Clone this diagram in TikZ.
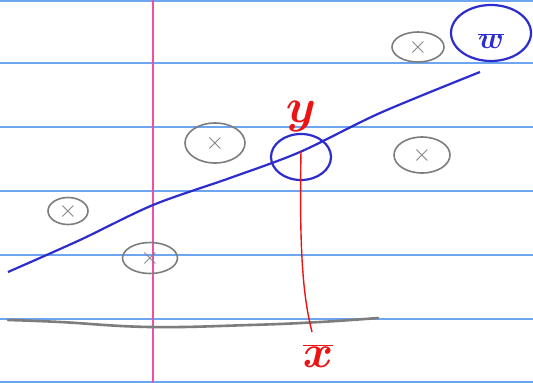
\documentclass[tikz,border=0pt]{standalone}
\usepackage{fix-cm}
\usepackage{bm}
\usetikzlibrary{positioning,shapes.geometric}

\definecolor{rulecol}{RGB}{110,165,240}
\definecolor{margincol}{RGB}{235,80,175}
\definecolor{inkblue}{RGB}{45,45,205}
\definecolor{pencil}{RGB}{125,125,125}
\definecolor{penred}{RGB}{235,20,20}

\tikzset{
  rule/.style={rulecol, line width=1.2pt},
  datapt/.style={ellipse, draw=pencil, line width=1.6pt, inner sep=0pt, text=pencil, font=\fontsize{24}{26}\selectfont},
  ring/.style={ellipse, draw=inkblue, line width=2.2pt, inner sep=0pt}
}

\begin{document}
\begin{tikzpicture}[x=1pt, y=-1pt]

% Paper
\fill[white] (0,0) rectangle (533,383);
\useasboundingbox (0,0) rectangle (533,383);

% Ruled lines
\foreach \y in {1, 63, 127, 191, 255, 319, 382} {
  \draw[rule] (0,\y) -- (533,\y);
}

% Margin
\draw[margincol, line width=1.3pt] (153,0) -- (153,383);

% Baseline (pencil)
\draw[pencil, line width=2.6pt, line cap=round] plot[smooth, tension=0.7] coordinates {
  (8,320) (60,322) (150,327) (250,325) (320,322) (378,318)
};

% Data points
\foreach \px/\py/\w/\h [count=\i] in {68/211/40/27, 150/258/55/31, 215/143/60/40, 422/155/56/36, 418/47/52/30} {
  \node[datapt, minimum width=\w, minimum height=\h] (p\i) at (\px,\py) {$\times$};
}

% Weight line
\draw[inkblue, line width=2.2pt] plot[smooth, tension=0.5] coordinates {
  (8,272) (80,240) (153,205) (230,178) (300,152) (380,113) (480,72)
};

% Weight label
\node[ring, inkblue, minimum width=80, minimum height=56, font=\fontsize{30}{32}\selectfont] (wlab) at (491,33) {\raisebox{-8pt}[\height][0pt]{$\overline{\bm{w}}$}};

% Query point and projection
\node[ring, minimum width=60, minimum height=46] (ypt) at (301,157) {};
\node[penred, font=\fontsize{48}{52}\selectfont] (ylab) at (301,116) {$\bm{y}$};
\node[penred, font=\fontsize{46}{50}\selectfont] (xlab) at (318,356) {$\overline{\bm{x}}$};
\coordinate (xtop) at (312,332);
\draw[penred, line width=1.4pt] ([yshift=6pt]ypt.center) .. controls (299,260) and (304,300) .. (xtop);

\end{tikzpicture}
\end{document}
